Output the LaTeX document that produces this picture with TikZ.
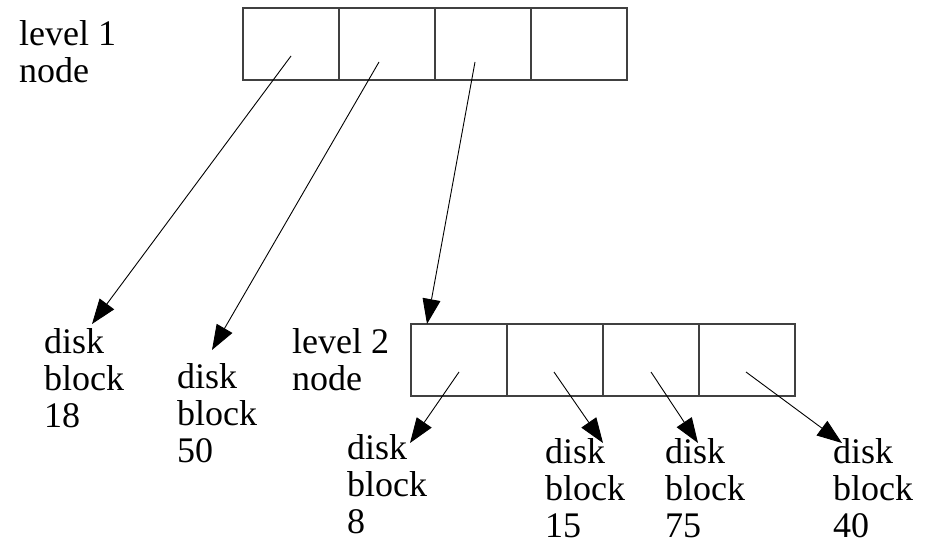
\documentclass[tikz,border=0pt]{standalone}
\usepackage{fontspec}
\setmainfont{Liberation Serif}
\usetikzlibrary{arrows.meta}
\begin{document}
\begin{tikzpicture}[x=1pt,y=-1pt,
  cell/.style={draw=black!75, line width=1.3pt, minimum width=96pt, minimum height=72pt, inner sep=0pt, outer sep=0pt},
  lbl/.style={anchor=base west, inner sep=0pt, align=left, font=\fontsize{36}{37}\selectfont},
  ptr/.style={line width=0.9pt, -{Triangle[length=25pt,width=18pt]}}]
\useasboundingbox (0,0) rectangle (936,543);
% level 1 node
\foreach \n/\x in {a/291, b/387, c/483, d/579}
  \node[cell] (l1\n) at (\x,44) {};
% level 2 node
\foreach \n/\x in {a/459, b/555, c/651, d/747}
  \node[cell] (l2\n) at (\x,360) {};
% labels (anchored at the baseline of the last line)
\node[lbl] (t1) at (19,82) {level 1\\node};
\node[lbl] (t2) at (292,390) {level 2\\node};
\node[lbl] (d18) at (44,427) {disk\\block\\18};
\node[lbl] (d50) at (177,462) {disk\\block\\50};
\node[lbl] (d8) at (347,533) {disk\\block\\8};
\node[lbl] (d15) at (545,537) {disk\\block\\15};
\node[lbl] (d75) at (665,537) {disk\\block\\75};
\node[lbl] (d40) at (833,537) {disk\\block\\40};
% pointer origins and tips
\coordinate (s1) at (291,56);
\coordinate (s2) at (379,62);
\coordinate (s3) at (475,62);
\coordinate (e1) at (92,324);
\coordinate (e2) at (212,350);
\coordinate (e3) at (427,324);
\coordinate (r1) at (459,372);
\coordinate (r2) at (554,372);
\coordinate (r3) at (651,372);
\coordinate (r4) at (746,372);
\coordinate (f1) at (410,443);
\coordinate (f2) at (603,443);
\coordinate (f3) at (698,443);
\coordinate (f4) at (842,443);
\draw[ptr] (s1) -- (e1);
\draw[ptr] (s2) -- (e2);
\draw[ptr] (s3) -- (e3);
\draw[ptr] (r1) -- (f1);
\draw[ptr] (r2) -- (f2);
\draw[ptr] (r3) -- (f3);
\draw[ptr] (r4) -- (f4);
\end{tikzpicture}
\end{document}
